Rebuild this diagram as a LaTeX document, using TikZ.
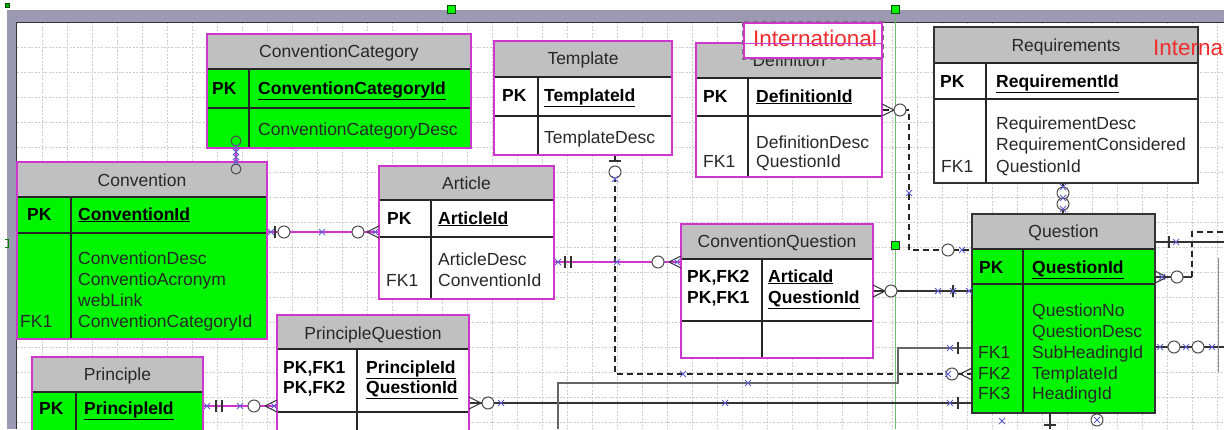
\documentclass[tikz,border=0pt]{standalone}
\usepackage{fontspec}
\setmainfont{Liberation Sans}
\definecolor{magc}{RGB}{205,55,205}
\definecolor{hdrg}{RGB}{192,192,192}
\definecolor{bgreen}{RGB}{0,245,0}
\definecolor{framegray}{RGB}{156,154,178}
\definecolor{pmc}{RGB}{95,95,205}
\definecolor{txtg}{RGB}{40,40,40}
\definecolor{intred}{RGB}{240,45,45}
\definecolor{gridc}{RGB}{205,205,205}
\definecolor{guideg}{RGB}{110,190,110}
\newcommand\fs{\fontsize{17.5}{21}\selectfont}
\tikzset{
  gridl/.style={draw=gridc, line width=0.5pt, dash pattern=on 2pt off 1.5pt},
  innerl/.style={draw=black!85, line width=1.3pt},
  tblframe/.style={draw=magc, line width=1.8pt, inner sep=0pt},
  ttl/.style={font=\fs, text=txtg, anchor=base, inner sep=0pt},
  pkt/.style={font=\fs\bfseries, text=black, anchor=base west, inner sep=0pt},
  fldt/.style={font=\fs, text=txtg, anchor=base west, inner sep=0pt},
  intt/.style={font=\fontsize{22.5}{25}\selectfont, text=intred, inner sep=0pt},
  magln/.style={draw=magc, line width=1.8pt},
  blkln/.style={draw=black!80, line width=1.1pt},
  grayln/.style={draw=black!60, line width=1.6pt},
  dashln/.style={draw=black!85, line width=1.6pt, dash pattern=on 6pt off 4pt},
  pmark/.style={draw=pmc, line width=0.9pt},
  ringst/.style={draw=black!70, line width=1pt, fill=white},
  sym/.style={draw=black!80, line width=1.1pt}
}
\newcommand\ertable[9]{%
  \fill[#9] (#2,#6) rectangle (#4,#5);
  \fill[hdrg] (#2,#3) rectangle (#4,#6);
  \draw[innerl] (#2,#6) -- (#4,#6) (#2,#7) -- (#4,#7) (#8,#6) -- (#8,#5);
  \node[tblframe, minimum width={#4-#2}, minimum height={#5-#3}] (#1) at ({(#2+#4)/2},{(#3+#5)/2}) {};
}
\newcommand\pmk[2]{\draw[pmark] ({#1-3},{#2-3}) -- ({#1+3},{#2+3}) ({#1-3},{#2+3}) -- ({#1+3},{#2-3});}
\newcommand\rng[2]{\draw[ringst] (#1,#2) circle (6pt);}
\newcommand\rngn[2]{\draw[ringst, fill=none] (#1,#2) circle (5pt);}
\newcommand\crowft[3]{\draw[sym] ({#1+(#3)},#2) -- (#1,{#2-6}) ({#1+(#3)},#2) -- (#1,{#2+6});}
\newcommand\vbr[2]{\draw[sym] (#1,{#2-6}) -- (#1,{#2+6});}
\newcommand\hbr[2]{\draw[sym] ({#1-6},#2) -- ({#1+6},#2);}
\begin{document}
\begin{tikzpicture}[x=1pt,y=-1pt]
\useasboundingbox (0,0) rectangle (1224,429);
\clip (0,0) rectangle (1224,429);
\fill[white] (0,0) rectangle (1224,429);
% grid
\foreach \gx in {42,67,...,1217} {\draw[gridl] (\gx,22) -- (\gx,429);}
\foreach \gy in {47,72,...,422} {\draw[gridl] (17,\gy) -- (1224,\gy);}
% frame
\fill[framegray] (7,10) rectangle (1224,22);
\fill[framegray] (7,10) rectangle (16.5,429);
\draw[black!80, line width=1pt] (16.5,429) -- (16.5,22) -- (1224,22);
% guide line and handles
\draw[guideg, line width=0.9pt] (895,14) -- (895,429);
\filldraw[fill=green!70!black, draw=green!30!black] (5,3) rectangle (9,7);
\filldraw[fill=bgreen, draw=green!30!black, line width=0.8pt] (447,5) rectangle (455,13);
\filldraw[fill=bgreen, draw=green!30!black, line width=0.8pt] (891,5) rectangle (899,13);
\filldraw[fill=bgreen, draw=black!80, line width=0.8pt] (891,241) rectangle (899,249);
\draw[green!50!black, line width=1pt] (5,239) -- (8,239) -- (8,247) -- (5,247);

% tables
\ertable{cc}{207}{34}{471}{148}{69}{108}{249}{bgreen}
\ertable{tp}{494}{41}{672}{155}{77}{116}{538}{white}
\ertable{df}{696}{43}{882}{177}{78}{116}{748}{white}
\ertable{cv}{17}{162}{267}{339}{197}{233}{71}{bgreen}
\ertable{ar}{379}{166}{554}{299}{200}{237}{431}{white}
\ertable{cq}{681}{224}{873}{358}{259}{321}{762}{white}
\ertable{pq}{277}{315}{469}{470}{349}{412}{357}{white}
\ertable{pr}{32}{357}{203}{470}{392}{450}{76}{bgreen}
\begin{scope}[tblframe/.style={draw=black!80, line width=1.5pt, inner sep=0pt}]
\ertable{rq}{934}{27}{1198}{183}{63}{99}{986}{white}
\ertable{qu}{972}{214}{1155}{413}{249}{284}{1023}{bgreen}
\end{scope}

% ConventionCategory
\node[ttl] (ccT) at (339,57) {ConventionCategory};
\node[pkt] (ccP) at (212,94) {PK};
\node[pkt] (ccK) at (258,94) {\underline{ConventionCategoryId}};
\node[fldt] (ccA) at (258,135) {ConventionCategoryDesc};
% Template
\node[ttl] (tpT) at (583,64) {Template};
\node[pkt] (tpP) at (502,101) {PK};
\node[pkt] (tpK) at (544,101) {\underline{TemplateId}};
\node[fldt] (tpA) at (544,143) {TemplateDesc};
% Definition
\node[ttl] (dfT) at (789,66) {Definition};
\node[pkt] (dfP) at (703,102) {PK};
\node[pkt] (dfK) at (756,102) {\underline{DefinitionId}};
\node[fldt] (dfA) at (756,148) {DefinitionDesc};
\node[fldt] (dfB) at (756,167) {QuestionId};
\node[fldt] (dfF) at (703,167) {FK1};
% International label over Definition
\node[draw=magc, line width=2.8pt, fill=white, minimum width=138, minimum height=35, inner sep=0pt] (intl) at (813,40.5) {};
\draw[black!55, line width=1.1pt, dash pattern=on 5pt off 4pt] (intl.north west) rectangle (intl.south east);
\node[intt, anchor=base] (intlT) at (815,46) {International};
\draw[magc, line width=0.8pt] (intl.west |- 0,43) -- (intl.east |- 0,43);
% Requirements
\node[ttl] (rqT) at (1066,51) {Requirements};
\node[intt, anchor=base west] (rqI) at (1153,55) {International};
\node[pkt] (rqP) at (940,87) {PK};
\node[pkt] (rqK) at (996,87) {\underline{RequirementId}};
\node[fldt] (rqA) at (996,129) {RequirementDesc};
\node[fldt] (rqB) at (996,150) {RequirementConsidered};
\node[fldt] (rqC) at (996,172) {QuestionId};
\node[fldt] (rqF) at (941,172) {FK1};
% Convention
\node[ttl] (cvT) at (142,186) {Convention};
\node[pkt] (cvP) at (27,220) {PK};
\node[pkt] (cvK) at (78,220) {\underline{ConventionId}};
\node[fldt] (cvA) at (78,264) {ConventionDesc};
\node[fldt] (cvB) at (78,285) {ConventioAcronym};
\node[fldt] (cvC) at (78,306) {webLink};
\node[fldt] (cvD) at (78,327) {ConventionCategoryId};
\node[fldt] (cvF) at (20,327) {FK1};
% Article
\node[ttl] (arT) at (466.5,189) {Article};
\node[pkt] (arP) at (387,224) {PK};
\node[pkt] (arK) at (438,224) {\underline{ArticleId}};
\node[fldt] (arA) at (438,265) {ArticleDesc};
\node[fldt] (arB) at (438,286) {ConventionId};
\node[fldt] (arF) at (386,286) {FK1};
% ConventionQuestion
\node[ttl] (cqT) at (777,247) {ConventionQuestion};
\node[pkt] (cqP1) at (687,282) {PK,FK2};
\node[pkt] (cqP2) at (687,303) {PK,FK1};
\node[pkt] (cqK1) at (768,282) {\underline{ArticaId}};
\node[pkt] (cqK2) at (768,303) {\underline{QuestionId}};
% PrincipleQuestion
\node[ttl] (pqT) at (373,339) {PrincipleQuestion};
\node[pkt] (pqP1) at (283,373) {PK,FK1};
\node[pkt] (pqP2) at (283,393) {PK,FK2};
\node[pkt] (pqK1) at (366,373) {\underline{PrincipleId}};
\node[pkt] (pqK2) at (366,393) {\underline{QuestionId}};
% Principle
\node[ttl] (prT) at (117.5,380) {Principle};
\node[pkt] (prP) at (39,414) {PK};
\node[pkt] (prK) at (84,414) {\underline{PrincipleId}};
% Question
\node[ttl] (quT) at (1063.5,237) {Question};
\node[pkt] (quP) at (979,273) {PK};
\node[pkt] (quK) at (1032,273) {\underline{QuestionId}};
\node[fldt] (quA) at (1032,316) {QuestionNo};
\node[fldt] (quB) at (1032,337) {QuestionDesc};
\node[fldt] (quC) at (1032,358) {SubHeadingId};
\node[fldt] (quD) at (1032,379) {TemplateId};
\node[fldt] (quE) at (1032,399) {HeadingId};
\node[fldt] (quF1) at (978,358) {FK1};
\node[fldt] (quF2) at (978,379) {FK2};
\node[fldt] (quF3) at (978,399) {FK3};

% ---------- connectors ----------
% ConventionCategory - Convention
\draw[magln] (cc.south -| 236,0) -- (cv.north -| 236,0);
\rngn{236}{141}\rngn{236}{169}
\pmk{236}{147}\pmk{236}{152}\pmk{236}{157}\pmk{236}{162}
% Convention - Article
\draw[magln] (cv.east |- 0,232) -- (ar.west |- 0,232);
\pmk{271}{232}\vbr{275}{232}\rng{284}{232}\pmk{322}{232}\rng{358}{232}
\crowft{379}{232}{-12}\pmk{375}{232}
% Article - ConventionQuestion
\draw[magln] (ar.east |- 0,262) -- (cq.west |- 0,262);
\pmk{558}{262}\vbr{565}{262}\vbr{571}{262}\rng{658}{262}
\crowft{681}{262}{-12}\pmk{677}{262}
% Template - Question
\draw[dashln] (tp.south -| 615,0) -- (615,374) -- (qu.west |- 0,374);
\hbr{615}{161}\rng{615}{172}\pmk{615}{179}\pmk{617}{262}\pmk{683}{374}
\rng{952}{374}\pmk{948}{374}\crowft{972}{374}{-12}
% Definition - Question
\draw[dashln] (df.east |- 0,110) -- (909,110) -- (909,250) -- (qu.west |- 0,250);
\crowft{882}{110}{12}\rng{900}{110}\pmk{909}{193}\rng{948}{250}\pmk{962}{250}
% Requirements - Question
\draw[blkln] (rq.south -| 1063,0) -- (qu.north -| 1063,0);
\rng{1063}{193}\rng{1063}{204}
\pmk{1063}{187}\pmk{1063}{198}\pmk{1063}{209}
% ConventionQuestion - Question
\draw[blkln] (cq.east |- 0,291) -- (qu.west |- 0,291);
\crowft{873}{291}{12}\rng{891}{291}\pmk{938}{291}\vbr{953}{291}\pmk{953}{291}\pmk{969}{291}
% PrincipleQuestion - Question
\draw[blkln] (pq.east |- 0,403) -- (qu.west |- 0,403);
\crowft{469}{403}{12}\rng{488}{403}\pmk{501}{403}\pmk{725}{403}\pmk{950}{403}\vbr{958}{403}
% lower link into Question FK1
\coordinate (c9s) at (558,429);
\draw[grayln] (c9s) -- (558,383) -- (898,383) -- (898,348) -- (qu.west |- 0,348);
\pmk{748}{383}\pmk{950}{348}\vbr{958}{348}
% Principle - PrincipleQuestion
\draw[magln] (pr.east |- 0,406) -- (pq.west |- 0,406);
\pmk{207}{406}\vbr{216}{406}\vbr{222}{406}\pmk{240}{406}\rng{254}{406}
\crowft{277}{406}{-12}\pmk{274}{406}
% right side of Question
\coordinate (c11e) at (1224,242);
\draw[blkln] (qu.east |- 0,242) -- (c11e);
\vbr{1169}{242}\pmk{1176}{242}
\coordinate (c12m) at (1192,277);
\coordinate (c12e) at (1224,232);
\draw[blkln] (qu.east |- 0,277) -- (c12m);
\draw[dashln] (c12m) -- (1192,232) -- (c12e);
\crowft{1155}{277}{12}\pmk{1162}{277}\rng{1177}{277}
\coordinate (c13e) at (1224,347);
\draw[blkln] (qu.east |- 0,347) -- (c13e);
\pmk{1160}{347}\rng{1174}{347}\pmk{1186}{347}\rng{1198}{347}\pmk{1212}{347}
\draw[black!45, line width=1pt] (1218,258) -- (1218,372);
% bottom of Question
\coordinate (c14e) at (1050,429);
\draw[blkln] (qu.south -| 1050,0) -- (c14e);
\hbr{1050}{425}\pmk{1002}{421}\rng{1097}{420}\pmk{1097}{420}
\end{tikzpicture}
\end{document}
